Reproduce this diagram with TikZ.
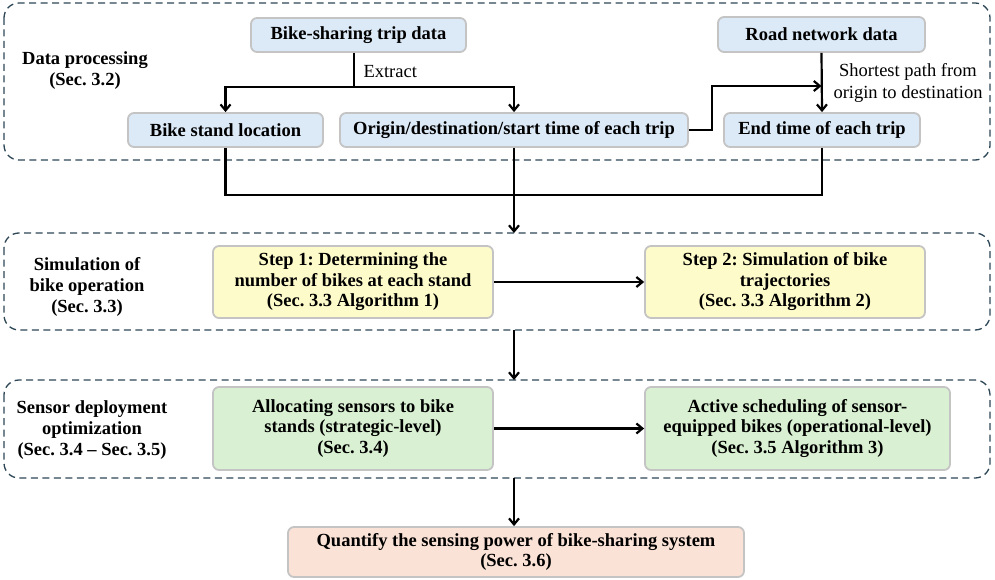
\documentclass[tikz,border=0pt]{standalone}
\usepackage{fontspec}
\setmainfont{Liberation Serif}
\usetikzlibrary{arrows.meta}
\frenchspacing
\definecolor{grpc}{HTML}{2E4756}
\definecolor{bluef}{HTML}{DCE9F6}
\definecolor{yelf}{HTML}{FEFBCB}
\definecolor{grnf}{HTML}{D9F1D2}
\definecolor{salf}{HTML}{FBE2D6}
\definecolor{bordc}{HTML}{C4C4C4}
\tikzset{
  grp/.style={draw=grpc, line width=1.3pt, dash pattern=on 7pt off 4.5pt, rounded corners=15pt},
  box/.style={draw=bordc, line width=1.8pt, rounded corners=6pt, inner sep=0pt, align=center,
     font=\fontsize{18.5}{20.5}\selectfont\bfseries},
  lbl/.style={align=center, font=\fontsize{18.5}{21}\selectfont\bfseries},
  note/.style={align=center, font=\fontsize{18.5}{22}\selectfont},
  arr/.style={line width=2.2pt, -{Straight Barb[length=6pt,width=10pt,line width=2.2pt]}},
  ln/.style={line width=2.2pt}
}
\begin{document}
\begin{tikzpicture}[x=1pt,y=-1pt]
\useasboundingbox (0,0) rectangle (995,580);
% groups
\draw[grp] (4,3) rectangle (990,160);
\draw[grp] (4,233) rectangle (990,330);
\draw[grp] (4,380) rectangle (990,478);
% group labels
\node[lbl] (g1) at (85,71) {Data processing\\(Sec. 3.2)};
\node[lbl] (g2) at (87,287) {Simulation of\\bike operation\\(Sec. 3.3)};
\node[lbl] (g3) at (92,430) {Sensor deployment\\optimization\\(Sec. 3.4 -- Sec. 3.5)};
% nodes
\node[box, fill=bluef, minimum width=215pt, minimum height=34pt] (trip) at (358.5,35) {Bike-sharing trip data};
\node[box, fill=bluef, minimum width=195pt, minimum height=34pt] (stand) at (225.5,130) {Bike stand location};
\node[box, fill=bluef, minimum width=348pt, minimum height=34pt] (od) at (514,130) {Origin/destination/start time of each trip};
\node[box, fill=bluef, minimum width=207pt, minimum height=35pt] (road) at (821.5,34.5) {Road network data};
\node[box, fill=bluef, minimum width=196pt, minimum height=34pt] (endt) at (822,130) {End time of each trip};
\node[box, fill=yelf, minimum width=280pt, minimum height=72pt] (s1) at (353,282) {Step 1: Determining the\\number of bikes at each stand\\(Sec. 3.3 Algorithm 1)};
\node[box, fill=yelf, minimum width=280pt, minimum height=72pt] (s2) at (785,282) {Step 2: Simulation of bike\\trajectories\\(Sec. 3.3 Algorithm 2)};
\node[box, fill=grnf, minimum width=280pt, minimum height=83pt] (a1) at (353,428.5) {Allocating sensors to bike\\stands (strategic-level)\\(Sec. 3.4)};
\node[box, fill=grnf, minimum width=305pt, minimum height=83pt] (a2) at (797.5,428.5) {Active scheduling of sensor-\\equipped bikes (operational-level)\\(Sec. 3.5 Algorithm 3)};
\node[box, fill=salf, minimum width=456pt, minimum height=50pt] (q) at (516,552) {Quantify the sensing power of bike-sharing system\\(Sec. 3.6)};
% coordinates
\coordinate (ex) at (354,87);
\coordinate (j1) at (712,86);
\coordinate (m) at (514,195);
\coordinate (g2top) at (514,233);
\coordinate (g2bot) at (514,330);
\coordinate (g3top) at (514,380);
\coordinate (g3bot) at (514,478);
% connectors
\draw[ln] (trip.south -| ex) -- (ex);
\draw[arr] (ex) -| (stand.north);
\draw[arr] (ex) -| (od.north);
\node[note, anchor=west] (extract) at (360,72) {Extract};
\draw[arr] (road.south) -- (endt.north);
\draw[arr] (od.east) -| (j1) -- (j1 -| road.south);
\node[note] (sp) at (908,83) {Shortest path from\\origin to destination};
\draw[ln] (stand.south) |- (m);
\draw[ln] (endt.south) |- (m);
\draw[arr] (od.south) -- (g2top);
\draw[arr] (s1) -- (s2);
\draw[arr] (g2bot) -- (g3top);
\draw[arr] (a1) -- (a2);
\draw[arr] (g3bot) -- (q.north -| g3bot);
\end{tikzpicture}
\end{document}
